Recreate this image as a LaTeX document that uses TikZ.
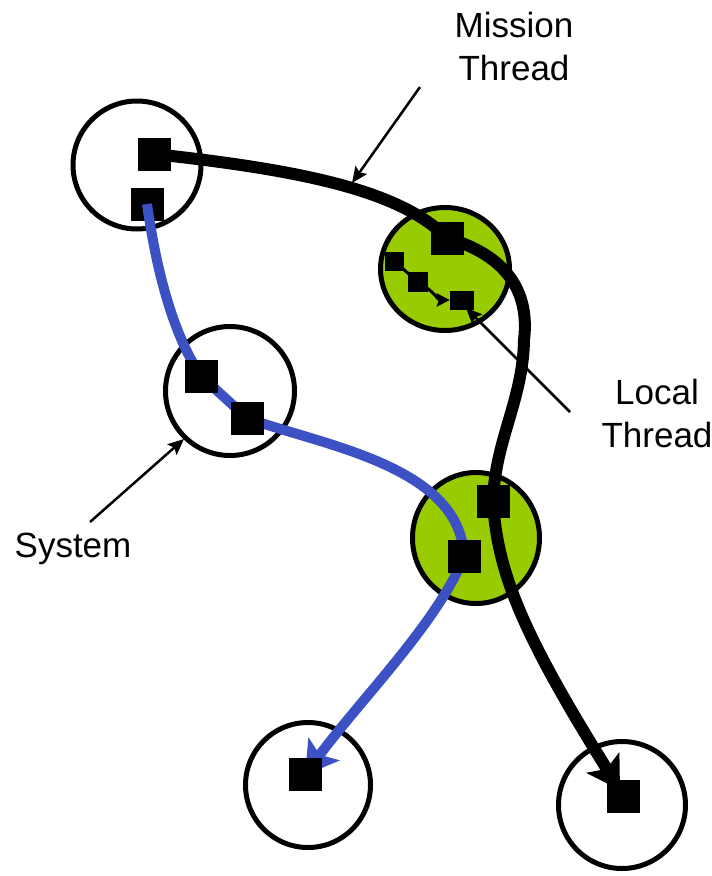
\documentclass[tikz,border=0pt]{standalone}
\usepackage{fontspec}
\setmainfont{Liberation Sans}
\usetikzlibrary{arrows.meta,shapes.geometric}
\definecolor{lgreen}{HTML}{99CC00}
\definecolor{tblue}{HTML}{3B51C4}
\tikzset{
  sys/.style={draw=black,line width=5pt,circle,inner sep=0pt},
  sysg/.style={sys,fill=lgreen},
  sq/.style={fill=black,draw=none,minimum size=33pt,inner sep=0pt},
  sqs/.style={fill=black,draw=none,minimum size=19pt,inner sep=0pt},
  mission/.style={draw=black,line width=12pt,line cap=butt},
  bluethread/.style={draw=tblue,line width=10pt},
  localthread/.style={draw=black,line width=3pt},
  annot/.style={draw=black,line width=2.5pt,-{Stealth[length=16pt,width=14pt,inset=3pt]}},
  lbl/.style={font=\fontsize{35}{43}\selectfont,align=center,inner sep=0pt}
}
\begin{document}
\begin{tikzpicture}[x=1pt,y=-1pt]
\useasboundingbox (0,0) rectangle (712,876);
% systems
\node[sys,minimum size=128pt] (c1) at (137,165) {};
\node[sysg,ellipse,minimum width=129pt,minimum height=123pt] (c2) at (445,269) {};
\node[sys,minimum size=129pt] (c3) at (230,391) {};
\node[sysg,ellipse,minimum width=127pt,minimum height=131pt] (c4) at (476,538) {};
\node[sys,minimum size=125pt] (c5) at (308,785) {};
\node[sys,minimum size=127pt] (c6) at (622,805) {};
% squares (B drawn below the blue thread)
\node[sq] (B) at (147,204) {};
% blue thread
\draw[bluethread,-{Stealth[length=32pt,width=38pt,inset=7pt]}]
  (B.center) .. controls (155,260) and (170,330) .. (201,376)
  -- (247,418) .. controls (320,445) and (460,465) .. (464,556)
  .. controls (440,620) and (360,700) .. (305,775);
% mission thread
\draw[mission,-{Stealth[length=32pt,width=38pt,inset=7pt]}]
  (154,154) .. controls (300,170) and (400,190) .. (447,238)
  .. controls (505,255) and (530,290) .. (524,340)
  .. controls (523,400) and (495,440) .. (493,501)
  .. controls (497,570) and (520,630) .. (620,790);
% squares
\node[sq] (A) at (154,154) {};
\node[sq] (C) at (447,238) {};
\node[sqs] (D) at (394,261) {};
\node[sqs,minimum size=20pt] (E) at (418,282) {};
\node[sqs,minimum width=24pt,minimum height=19pt] (F) at (462,300) {};
\node[sq] (G) at (201,376) {};
\node[sq] (H) at (247,418) {};
\node[sq] (I) at (493,501) {};
\node[sq] (J) at (464,556) {};
\node[sq] (K) at (305,774) {};
\node[sq] (L) at (623,796) {};
% local thread
\draw[localthread] (D.center) -- (E.center);
\draw[localthread,-{Stealth[length=13pt,width=13pt,inset=2pt]}]
  (E.center) .. controls (435,292) and (438,300) .. (F.west);
% labels
\node[lbl] (mt) at (514,46) {Mission\\Thread};
\node[lbl] (lt) at (657,413) {Local\\Thread};
\node[lbl,anchor=base] (st) at (73,557) {System};
% annotation arrows
\coordinate (mt0) at (420,87);
\coordinate (mt1) at (352,183);
\coordinate (lt0) at (570,412);
\coordinate (lt1) at (466,308);
\coordinate (st0) at (90,522);
\coordinate (st1) at (184,439);
\draw[annot] (mt0) -- (mt1);
\draw[annot] (lt0) -- (lt1);
\draw[annot] (st0) -- (st1);
\end{tikzpicture}
\end{document}
